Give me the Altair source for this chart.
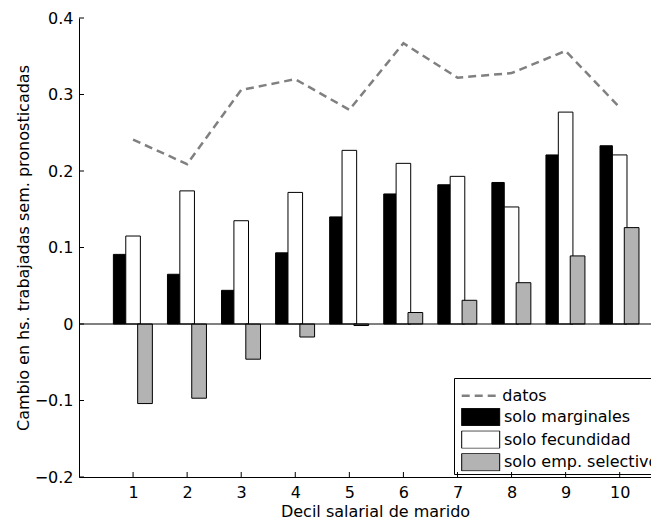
import altair as alt
import pandas as pd

# ---- data ----
deciles = [1, 2, 3, 4, 5, 6, 7, 8, 9, 10]
datos = [0.241, 0.209, 0.306, 0.320, 0.280, 0.367, 0.322, 0.328, 0.357, 0.283]
solo_marginales = [0.091, 0.065, 0.044, 0.093, 0.140, 0.170, 0.182, 0.185, 0.221, 0.233]
solo_fecundidad = [0.115, 0.174, 0.135, 0.172, 0.227, 0.210, 0.193, 0.153, 0.277, 0.221]
solo_emp_selectivo = [-0.104, -0.097, -0.046, -0.017, -0.002, 0.015, 0.031, 0.054, 0.089, 0.126]
series_barras = ["solo marginales", "solo fecundidad", "solo emp. selectivo"]
serie_linea = ["datos"]
y_ticks = [-0.2, -0.1, 0.0, 0.1, 0.2, 0.3, 0.4]

FONT = "DejaVu Sans"
W, H = 572, 459

bars_df = pd.DataFrame({
    "decil": deciles * 3,
    "serie": [s for s in series_barras for _ in deciles],
    "valor": solo_marginales + solo_fecundidad + solo_emp_selectivo,
})
line_df = pd.DataFrame({"decil": deciles, "serie": serie_linea * len(deciles), "valor": datos})
xt_df = pd.DataFrame({"v": deciles})
yt_df = pd.DataFrame({"v": y_ticks})
zero_df = pd.DataFrame({"v": [0.0]})

x_scale = alt.Scale(domain=[0, 10.579], nice=False, zero=False)
y_scale = alt.Scale(domain=[-0.2, 0.4], nice=False, zero=False)

x_axis = alt.Axis(
    values=deciles, ticks=False, tickSize=0, grid=False,
    domainColor="black", domainWidth=1,
    labelFont=FONT, labelFontSize=16, labelColor="black", labelPadding=7.5,
    title="Decil salarial de marido", titleFont=FONT, titleFontSize=16,
    titleFontWeight="normal", titleColor="black",
    titleX=296, titleY=39, titleBaseline="alphabetic",
)
y_axis = alt.Axis(
    values=y_ticks, ticks=False, tickSize=0, grid=False,
    domainColor="black", domainWidth=1,
    labelFont=FONT, labelFontSize=16, labelColor="black", labelPadding=6,
    labelExpr="datum.value == 0 ? '0' : format(datum.value, '.1f')",
    title="Cambio en hs. trabajadas sem. pronosticadas", titleFont=FONT,
    titleFontSize=16, titleFontWeight="normal", titleColor="black", titlePadding=3,
)

def offs(a, b, c):
    return ("datum.decil + (datum.serie === 'solo marginales' ? %s : "
            "(datum.serie === 'solo fecundidad' ? %s : %s))" % (a, b, c))

bars = alt.Chart(bars_df).transform_calculate(
    x0=offs(-0.364, -0.135, 0.085),
    x1=offs(-0.135, 0.135, 0.357),
).mark_bar(stroke="black", strokeWidth=1).encode(
    x=alt.X("x0:Q", scale=x_scale, axis=x_axis),
    x2="x1:Q",
    y=alt.Y("valor:Q", scale=y_scale, axis=y_axis),
    y2=alt.datum(0),
    fill=alt.Fill(
        "serie:N",
        scale=alt.Scale(domain=series_barras, range=["#000000", "#ffffff", "#b3b3b3"]),
        legend=alt.Legend(
            orient="none", legendX=375, legendY=360, padding=2.6,
            strokeColor="black", title=" ", titleFontSize=16, titlePadding=11.4,
            symbolType="M-1,-0.46H1V0.46H-1Z", symbolSize=1444, symbolOffset=4.6,
            symbolStrokeColor="black", symbolStrokeWidth=1,
            clipHeight=18, rowPadding=4.6,
            labelFont=FONT, labelFontSize=16, labelColor="black",
            labelOffset=3.7, labelLimit=400,
        ),
    ),
)

zero = alt.Chart(zero_df).mark_rule(color="black", strokeWidth=1).encode(
    y=alt.Y("v:Q", scale=y_scale, axis=y_axis)
)

line = alt.Chart(line_df).mark_line(strokeDash=[8, 5], strokeWidth=2.5).encode(
    x=alt.X("decil:Q", scale=x_scale, axis=x_axis),
    y=alt.Y("valor:Q", scale=y_scale, axis=y_axis),
    stroke=alt.Stroke(
        "serie:N",
        scale=alt.Scale(domain=serie_linea, range=["#808080"]),
        legend=alt.Legend(
            orient="none", legendX=381.2, legendY=368.7, padding=0,
            title=None, symbolType="M-1,0H1", symbolSize=1444,
            symbolStrokeWidth=2.5, symbolDash=[8, 5],
            clipHeight=18,
            labelFont=FONT, labelFontSize=16, labelColor="black",
            labelOffset=1.1, labelLimit=400,
        ),
    ),
)

xticks = alt.Chart(xt_df).mark_rule(color="black", strokeWidth=1).encode(
    x=alt.X("v:Q", scale=x_scale, axis=x_axis),
    y=alt.value(H), y2=alt.value(H - 5),
)
yticks = alt.Chart(yt_df).mark_rule(color="black", strokeWidth=1).encode(
    y=alt.Y("v:Q", scale=y_scale, axis=y_axis),
    x=alt.value(0), x2=alt.value(5),
)

chart = alt.layer(bars, zero, line, xticks, yticks).properties(
    width=W, height=H,
    padding={"left": 71, "top": 10, "right": 0, "bottom": 45},
    autosize=alt.AutoSizeParams(type="none"),
    background="white",
).configure_view(stroke=None)

chart.save("out.html", embed_options={"renderer": "svg", "actions": False})
